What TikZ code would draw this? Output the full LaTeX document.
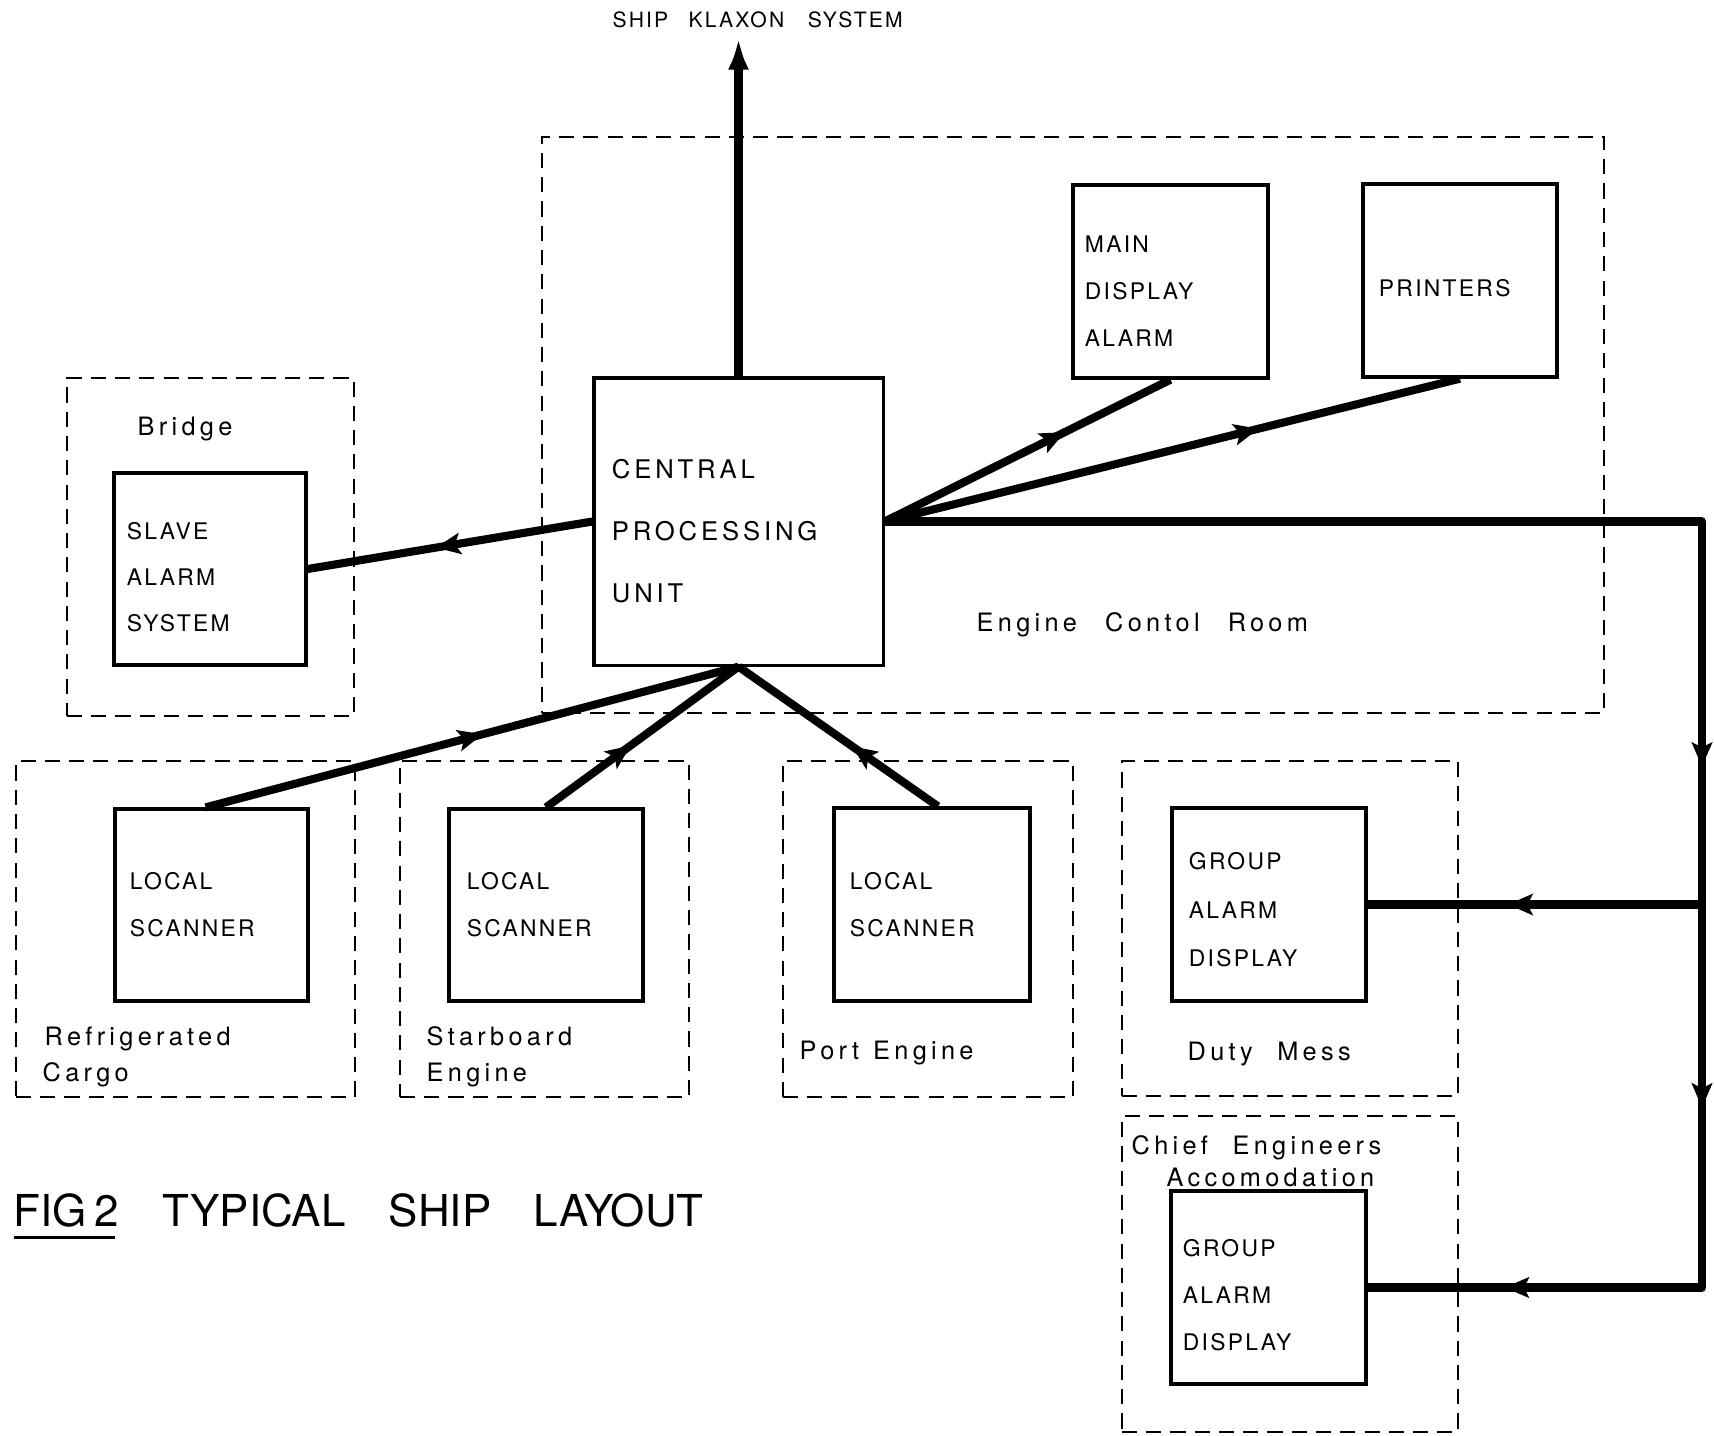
\documentclass[tikz,border=0pt]{standalone}
\usepackage{fontspec}
\setmainfont{TeX Gyre Heros}
\newfontfamily\boxfnt[LetterSpace=10]{TeX Gyre Heros}
\newfontfamily\cpufnt[LetterSpace=15]{TeX Gyre Heros}
\newfontfamily\labfnt[LetterSpace=17]{TeX Gyre Heros}
\usetikzlibrary{arrows.meta,decorations.markings,calc}
\newcommand{\wgap}{\hspace{7pt}}
\newcommand{\tdown}[1]{\rule{0pt}{#1}}
\begin{document}
\begin{tikzpicture}[x=0.01cm,y=-0.01cm,
 box/.style={draw, line width=0.9pt, rectangle, inner sep=0pt, align=left},
 smallbox/.style={box, font=\boxfnt\fontsize{6.5}{13.4}\selectfont},
 zone/.style={draw, line width=0.6pt, dash pattern=on 4.3pt off 2.6pt, rectangle, inner sep=0pt},
 lab/.style={anchor=base west, inner sep=0pt, font=\labfnt\fontsize{7.2}{10.5}\selectfont},
 link/.style={line width=2.3pt},
 midarrow/.style={postaction={decorate}, decoration={markings, mark=at position #1 with {\arrow{Stealth[length=7pt,width=6pt,inset=1.5pt]}}}},
]
\useasboundingbox[fill=white] (0,0) rectangle (1714,1435);

% zones
\node[zone, minimum width=10.62cm, minimum height=5.76cm] (ecr) at (1073,425) {};
\node[zone, minimum width=2.87cm, minimum height=3.38cm] (bridgez) at (210.5,547) {};
\node[zone, minimum width=3.39cm, minimum height=3.36cm] (refz) at (185.5,929) {};
\node[zone, minimum width=2.89cm, minimum height=3.36cm] (starz) at (544.5,929) {};
\node[zone, minimum width=2.90cm, minimum height=3.36cm] (portz) at (928,929) {};
\node[zone, minimum width=3.36cm, minimum height=3.35cm] (dutyz) at (1290,928.5) {};
\node[zone, minimum width=3.36cm, minimum height=3.16cm] (chiefz) at (1290,1274) {};

% boxes
\node[box, minimum width=2.89cm, minimum height=2.87cm, text width=2.53cm,
      font=\cpufnt\fontsize{7.3}{17.6}\selectfont] (cpu) at (738.5,521.5)
      {\tdown{10.8pt}CENTRAL\\PROCESSING\\UNIT};
\node[smallbox, minimum width=1.92cm, minimum height=1.92cm, text width=1.66cm,
      font=\boxfnt\fontsize{6.5}{13.1}\selectfont] (slave) at (210,569) {\tdown{9.7pt}SLAVE\\ALARM\\SYSTEM};
\node[smallbox, minimum width=1.95cm, minimum height=1.93cm, text width=1.71cm] (maind) at (1170.5,281.5) {\tdown{10.3pt}MAIN\\DISPLAY\\ALARM};
\node[smallbox, minimum width=1.94cm, minimum height=1.93cm, text width=1.62cm] (printers) at (1460,280.5) {\tdown{9.1pt}PRINTERS};
\node[smallbox, minimum width=1.93cm, minimum height=1.92cm, text width=1.63cm] (ls1) at (211.5,905) {LOCAL\\SCANNER};
\node[smallbox, minimum width=1.94cm, minimum height=1.92cm, text width=1.58cm] (ls2) at (546,905) {LOCAL\\SCANNER};
\node[smallbox, minimum width=1.96cm, minimum height=1.93cm, text width=1.64cm] (ls3) at (932,904.5) {LOCAL\\SCANNER};
\node[smallbox, minimum width=1.94cm, minimum height=1.93cm, text width=1.60cm,
      font=\boxfnt\fontsize{6.5}{13.7}\selectfont] (ga1) at (1269,904.5) {\tdown{7.8pt}GROUP\\ALARM\\DISPLAY};
\node[smallbox, minimum width=1.95cm, minimum height=1.93cm, text width=1.71cm] (ga2) at (1268.5,1287.5) {\tdown{9.1pt}GROUP\\ALARM\\DISPLAY};

% labels
\node[anchor=base west, inner sep=0pt, font=\boxfnt\fontsize{6}{7}\selectfont] (klaxon) at (612,27)
  {\makebox[0.76cm][l]{SHIP}\makebox[1.19cm][l]{KLAXON}SYSTEM};
\node[lab] (lbridge) at (137,435) {Bridge};
\node[lab] (lecr) at (976,631) {Engine\hspace{8pt}Contol\hspace{8pt}Room};
\node[lab] (lref1) at (44,1045) {Refrigerated};
\node[lab] (lref2) at (42,1081) {Cargo};
\node[lab] (lstar1) at (426,1045) {Starboard};
\node[lab] (lstar2) at (426,1081) {Engine};
\node[lab] (lport) at (799,1059) {Port\hspace{4pt}Engine};
\node[lab] (lduty) at (1187,1060) {Duty\wgap Mess};
\node[lab] (lchief1) at (1131,1154) {Chief\wgap Engineers};
\node[lab] (lchief2) at (1166,1186) {Accomodation};
\node[anchor=base west, inner sep=0pt, font=\fontsize{12.5}{15}\selectfont] (title) at (13,1226)
  {\makebox[1.49cm][l]{\rlap{\rule[-3.6pt]{1.01cm}{0.9pt}}FIG\,2}\makebox[2.26cm][l]{TYPICAL}\makebox[1.45cm][l]{SHIP}LAYOUT};

% connectors
\coordinate (klaxtip) at (738.5,38);
\draw[line width=2.6pt, -{Latex[length=9pt,width=6pt]}] (cpu.north) -- (klaxtip);
\draw[link, midarrow=0.55] (cpu.west) -- (slave.east);
\draw[link, midarrow=0.63] (cpu.east) -- (maind.south);
\draw[link, midarrow=0.65] (cpu.east) -- (printers.south);
\draw[link, midarrow=0.52] ($(ls1.north west)!0.47!(ls1.north east)$) -- (cpu.south);
\draw[link, midarrow=0.44] (ls2.north) -- (cpu.south);
\draw[link, midarrow=0.43] ($(ls3.north west)!0.53!(ls3.north east)$) -- (cpu.south);

\coordinate (c1) at (1702,521.5);
\coordinate (c2) at (c1 |- ga2.east);
\coordinate (j1) at (c1 |- ga1.east);
\draw[link, line join=round] (cpu.east) -- (c1) -- (c2) -- (ga2.east);
\path[postaction={decorate}, decoration={markings,
   mark=at position 0.32 with {\arrow{Stealth[length=7pt,width=6pt,inset=1.5pt]}},
   mark=at position 0.765 with {\arrow{Stealth[length=7pt,width=6pt,inset=1.5pt]}}}] (c1) -- (c2);
\path[midarrow=0.59] (c2) -- (ga2.east);
\draw[link, midarrow=0.58] (j1) -- (ga1.east);
\end{tikzpicture}
\end{document}
